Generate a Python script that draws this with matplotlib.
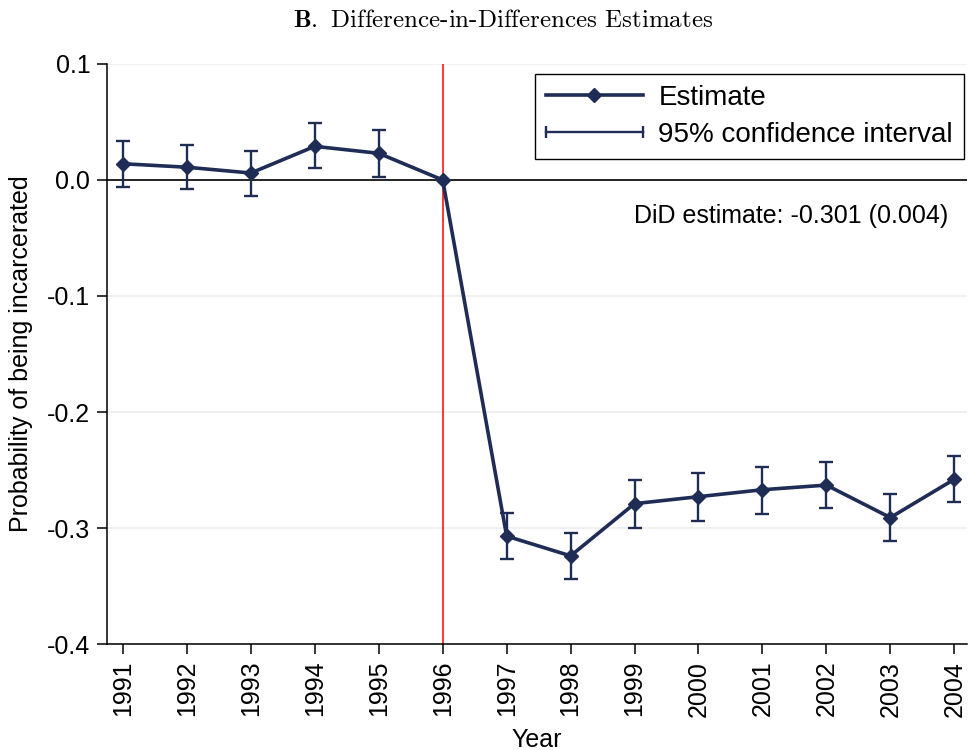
import numpy as np
import matplotlib.pyplot as plt
from matplotlib.lines import Line2D
from matplotlib.legend_handler import HandlerLine2D

plt.rcParams['font.family'] = ['Liberation Sans', 'DejaVu Sans']
plt.rcParams['axes.unicode_minus'] = False
plt.rcParams['mathtext.fontset'] = 'cm'

# datos
anios = [1991, 1992, 1993, 1994, 1995, 1996, 1997, 1998, 1999, 2000, 2001, 2002, 2003, 2004]
estimacion = [0.014, 0.011, 0.006, 0.029, 0.023, 0.0, -0.307, -0.324, -0.279, -0.273, -0.267, -0.263, -0.291, -0.258]
ic_sup = [0.034, 0.030, 0.025, 0.049, 0.043, np.nan, -0.287, -0.304, -0.259, -0.253, -0.247, -0.243, -0.271, -0.238]
ic_inf = [-0.006, -0.008, -0.014, 0.010, 0.003, np.nan, -0.327, -0.344, -0.300, -0.294, -0.288, -0.283, -0.311, -0.278]
y_ticks = [0.1, 0.0, -0.1, -0.2, -0.3, -0.4]
texto_did = "DiD estimate: -0.301 (0.004)"

azul = '#1f2d56'

fig = plt.figure(figsize=(9.69, 7.5), dpi=100)
ax = fig.add_axes([0.1104, 0.1413, 0.8876, 0.7734])

for y in y_ticks:
    ax.axhline(y, color='#ececec', lw=1.2, zorder=0)
ax.axhline(0, color='black', lw=1.2, zorder=1)
ax.axvline(1996, color='red', lw=1.1, zorder=1)

est = np.array(estimacion)
sup = np.array(ic_sup)
inf = np.array(ic_inf)
ok = ~np.isnan(sup)
ax.errorbar(np.array(anios)[ok], est[ok], yerr=[est[ok] - inf[ok], sup[ok] - est[ok]],
            fmt='none', ecolor=azul, elinewidth=1.7, capsize=5, capthick=1.7, zorder=2)
ax.plot(anios, estimacion, color=azul, lw=2.6, marker='D', markersize=7.5, zorder=3)

ax.set_xlim(1990.75, 2004.2)
ax.set_ylim(-0.4, 0.1)
ax.set_xticks(anios)
ax.set_xticklabels([str(a) for a in anios], rotation=90)
ax.set_yticks(y_ticks)
ax.set_yticklabels(['%.1f' % y for y in y_ticks])
ax.tick_params(labelsize=18, length=7, width=1.1, colors='black', pad=5)
ax.spines['top'].set_visible(False)
ax.spines['right'].set_visible(False)
ax.spines['left'].set_linewidth(1.1)
ax.spines['bottom'].set_linewidth(1.1)

ax.set_xlabel("Year", fontsize=18, labelpad=8)
ax.set_ylabel("Probability of being incarcerated", fontsize=18, labelpad=10)

h1 = Line2D([], [], color=azul, lw=2.6, marker='D', markersize=7.5)
h2 = Line2D([], [], color=azul, lw=1.7, marker='|', markersize=9, markeredgewidth=1.7)
leg = ax.legend([h1, h2], ["Estimate", "95% confidence interval"],
                loc='upper right', bbox_to_anchor=(0.9965, 0.983), fontsize=20,
                numpoints=1, handler_map={h2: HandlerLine2D(numpoints=2, marker_pad=0.0)},
                handlelength=3.5, handletextpad=0.55, fancybox=False, framealpha=1,
                edgecolor='black', borderaxespad=0, labelspacing=0.4, borderpad=0.4)
leg.get_frame().set_linewidth(1.0)

ax.text(0.978, 0.738, texto_did, transform=ax.transAxes, ha='right', va='center', fontsize=18)

fig.text(0.519, 0.964, r"$\mathbf{B.}$ Difference-in-Differences Estimates",
         ha='center', va='baseline', fontsize=18, family='cmr10')

fig.savefig('out.png', dpi=100)
